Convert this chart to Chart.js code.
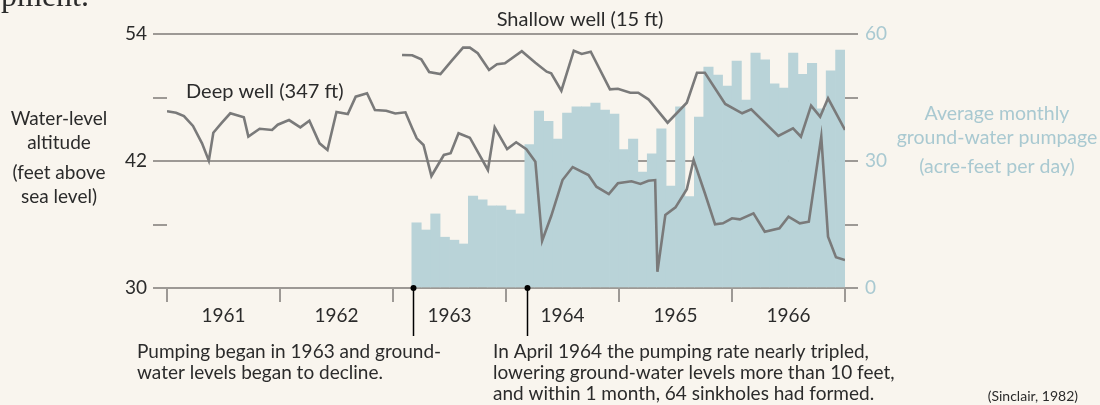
<!DOCTYPE html>
<html>
<head>
<meta charset="utf-8">
<script src="https://cdn.jsdelivr.net/npm/chart.js@4.4.1/dist/chart.umd.min.js"></script>
<style>
  html, body { margin: 0; padding: 0; background: #f9f5ee; }
  #wrap { position: relative; width: 1100px; height: 405px; }
</style>
</head>
<body>
<div id="wrap"><canvas id="chart"></canvas></div>
<script>
// deep well (347 ft) - decimal years / feet above sea level
const deepYears = [1961.00, 1961.08, 1961.15, 1961.23, 1961.31, 1961.37, 1961.41, 1961.48, 1961.56, 1961.68,
  1961.72, 1961.82, 1961.93, 1961.98, 1962.08, 1962.18, 1962.26, 1962.35, 1962.42, 1962.50,
  1962.60, 1962.67, 1962.77, 1962.84, 1962.94, 1963.02, 1963.11, 1963.17, 1963.21, 1963.27,
  1963.34, 1963.45, 1963.51, 1963.58, 1963.68, 1963.84, 1963.90, 1964.01, 1964.09, 1964.18,
  1964.26, 1964.32, 1964.40, 1964.50, 1964.59, 1964.73, 1964.80, 1964.91, 1964.99, 1965.11,
  1965.19, 1965.26, 1965.32, 1965.34, 1965.41, 1965.50, 1965.60, 1965.66, 1965.76, 1965.85,
  1965.92, 1966.00, 1966.07, 1966.19, 1966.29, 1966.42, 1966.50, 1966.60, 1966.68, 1966.79,
  1966.85, 1966.92, 1967.00];
const deepLevels = [46.7, 46.56, 46.25, 45.31, 43.67, 42.03, 44.67, 45.56, 46.51, 46.13,
  44.3, 45.05, 44.93, 45.43, 45.87, 45.18, 45.81, 43.67, 43.04, 46.63,
  46.44, 48.08, 48.4, 46.82, 46.75, 46.49, 46.6, 45.09, 44.14, 43.51,
  40.58, 42.57, 42.73, 44.62, 44.2, 41.15, 45.18, 43.13, 43.77, 43.11,
  41.93, 34.47, 36.8, 40.2, 41.43, 40.68, 39.57, 38.88, 39.89, 40.08,
  39.83, 40.14, 40.2, 31.54, 36.9, 37.62, 39.33, 42.09, 38.95, 36.02,
  36.11, 36.59, 36.49, 37.06, 35.32, 35.64, 36.74, 36.11, 36.26, 44.3,
  34.85, 32.9, 32.64];

// shallow well (15 ft)
const shallowYears = [1963.08, 1963.17, 1963.25, 1963.32, 1963.42, 1963.52, 1963.62, 1963.68, 1963.75, 1963.85,
  1963.92, 1963.99, 1964.14, 1964.26, 1964.36, 1964.40, 1964.49, 1964.60, 1964.67, 1964.75,
  1964.92, 1964.99, 1965.10, 1965.17, 1965.26, 1965.43, 1965.60, 1965.69, 1965.76, 1965.94,
  1966.09, 1966.17, 1966.41, 1966.54, 1966.61, 1966.70, 1966.78, 1966.85, 1967.00];
const shallowLevels = [52.02, 51.99, 51.61, 50.41, 50.22, 51.48, 52.71, 52.71, 52.18, 50.6,
  51.14, 51.23, 52.37, 51.29, 50.44, 50.29, 48.64, 52.42, 52.11, 52.33,
  48.77, 48.83, 48.45, 48.45, 47.83, 45.62, 47.51, 50.34, 50.34, 47.39,
  46.51, 46.88, 44.36, 45.09, 44.3, 47.23, 46.19, 47.92, 44.93];

// average monthly pumpage, acre-feet per day
const pumpMonths = ['1963-03', '1963-04', '1963-05', '1963-06', '1963-07', '1963-08', '1963-09', '1963-10', '1963-11', '1963-12',
  '1964-01', '1964-02', '1964-03', '1964-04', '1964-05', '1964-06', '1964-07', '1964-08', '1964-09', '1964-10', '1964-11', '1964-12',
  '1965-01', '1965-02', '1965-03', '1965-04', '1965-05', '1965-06', '1965-07', '1965-08', '1965-09', '1965-10', '1965-11', '1965-12',
  '1966-01', '1966-02', '1966-03', '1966-04', '1966-05', '1966-06', '1966-07', '1966-08', '1966-09', '1966-10', '1966-11', '1966-12'];
const pumpRates = [15.4, 13.7, 17.5, 12.0, 11.3, 10.4, 21.7, 20.8, 19.4, 19.4,
  18.4, 17.5, 33.9, 41.8, 39.4, 35.2, 41.3, 42.8, 42.8, 43.7, 42.0, 41.1,
  32.7, 35.2, 27.4, 31.7, 37.6, 24.1, 42.8, 21.6, 40.4, 52.2, 50.3, 47.7,
  53.6, 44.4, 55.5, 53.9, 48.2, 47.2, 55.5, 50.5, 53.1, 42.3, 51.3, 56.2];

const yearLabels = [1961, 1962, 1963, 1964, 1965, 1966];
const levelTicks = [54, 42, 30];
const pumpTicks = [60, 30, 0];
const events = [1963.18, 1964.19]; // pumping began, rate tripled

const ink = '#2b2b2b';
const lineGrey = '#7a7a7a';
const gridGrey = '#9d9995';
const blue = '#a9c9d1';
const barBlue = '#b9d3d8';
const font = 'Lato, "Open Sans", sans-serif';

function monthToYear(m) {
  const [y, mo] = m.split('-').map(Number);
  return y + (mo - 0.5) / 12;
}

const notes = {
  id: 'notes',
  afterDatasetsDraw(chart) {
    const ctx = chart.ctx;
    const x = chart.scales.x, y = chart.scales.y;
    ctx.save();
    // event markers
    ctx.strokeStyle = '#000';
    ctx.fillStyle = '#000';
    ctx.lineWidth = 1.5;
    events.forEach(v => {
      const px = Math.round(x.getPixelForValue(v)) + 0.5;
      const py = y.getPixelForValue(30);
      ctx.beginPath(); ctx.moveTo(px, py); ctx.lineTo(px, 336); ctx.stroke();
      ctx.beginPath(); ctx.arc(px, py, 3, 0, Math.PI * 2); ctx.fill();
    });

    ctx.textBaseline = 'middle';
    ctx.fillStyle = ink;
    ctx.textAlign = 'center';
    ctx.font = '20px ' + font;
    ctx.fillText('Shallow well (15 ft)', 580, 20);
    ctx.textAlign = 'left';
    ctx.fillText('Deep well (347 ft)', 186, 92);

    ctx.font = '19px ' + font;
    ctx.textAlign = 'center';
    ['Water-level', 'altitude'].forEach((t, i) => ctx.fillText(t, 59, 119 + i * 24));
    ['(feet above', 'sea level)'].forEach((t, i) => ctx.fillText(t, 59, 173 + i * 24));

    ctx.fillStyle = blue;
    ctx.font = '19.5px ' + font;
    ['Average monthly', 'ground-water pumpage'].forEach((t, i) => ctx.fillText(t, 997, 114 + i * 24));
    ctx.fillText('(acre-feet per day)', 997, 167);

    ctx.fillStyle = ink;
    ctx.font = '19px ' + font;
    ctx.textAlign = 'left';
    ['Pumping began in 1963 and ground-', 'water levels began to decline.']
      .forEach((t, i) => ctx.fillText(t, 137, 352 + i * 21));
    ['In April 1964 the pumping rate nearly tripled,', 'lowering ground-water levels more than 10 feet,',
     'and within 1 month, 64 sinkholes had formed.']
      .forEach((t, i) => ctx.fillText(t, 493, 352 + i * 21));

    ctx.font = '14px ' + font;
    ctx.textAlign = 'right';
    ctx.fillText('(Sinclair, 1982)', 1078, 396);

    ctx.font = '32px "Liberation Serif", serif';
    ctx.textBaseline = 'alphabetic';
    ctx.fillText('development.', 89, 6);
    ctx.restore();
  }
};

new Chart(document.getElementById('chart'), {
  data: {
    datasets: [
      {
        type: 'line',
        label: 'Shallow well (15 ft)',
        data: shallowYears.map((v, i) => ({ x: v, y: shallowLevels[i] })),
        yAxisID: 'y',
        borderColor: lineGrey,
        borderWidth: 2.6,
        pointRadius: 0,
        tension: 0,
        order: 0
      },
      {
        type: 'line',
        label: 'Deep well (347 ft)',
        data: deepYears.map((v, i) => ({ x: v, y: deepLevels[i] })),
        yAxisID: 'y',
        borderColor: lineGrey,
        borderWidth: 2.6,
        pointRadius: 0,
        tension: 0,
        order: 0
      },
      {
        type: 'bar',
        label: 'Pumpage',
        data: pumpMonths.map((m, i) => ({ x: monthToYear(m), y: pumpRates[i] })),
        yAxisID: 'y2',
        backgroundColor: barBlue,
        borderWidth: 0,
        categoryPercentage: 1,
        barPercentage: 1,
        order: 1
      }
    ]
  },
  options: {
    responsive: true,
    maintainAspectRatio: false,
    animation: false,
    layout: { padding: { top: 34, left: 0, right: 0, bottom: 0 } },
    plugins: { legend: { display: false }, tooltip: { enabled: false } },
    scales: {
      x: {
        type: 'linear',
        offset: false,
        min: 1961,
        max: 1967,
        afterBuildTicks: s => {
          const t = [{ value: 1961 }];
          yearLabels.forEach(yr => { t.push({ value: yr + 0.5 }); t.push({ value: yr + 1 }); });
          s.ticks = t;
        },
        afterFit: s => { s.height = 117; },
        border: { display: false },
        grid: {
          offset: false,
          drawOnChartArea: false,
          tickLength: 14,
          lineWidth: 2,
          tickColor: c => (c.tick && c.tick.value % 1 === 0) ? gridGrey : 'rgba(0,0,0,0)'
        },
        ticks: {
          autoSkip: false,
          maxRotation: 0,
          padding: 2,
          color: ink,
          font: { family: font, size: 19 },
          callback: v => (v % 1 !== 0) ? String(Math.floor(v)) : ''
        }
      },
      y: {
        position: 'left',
        min: 30,
        max: 54,
        afterBuildTicks: s => { s.ticks = [30, 36, 42, 48, 54].map(v => ({ value: v })); },
        afterFit: s => { s.width = 167; },
        border: { display: false },
        grid: {
          tickLength: 14,
          lineWidth: 2,
          color: c => (c.tick && levelTicks.includes(c.tick.value)) ? gridGrey : 'rgba(0,0,0,0)',
          tickColor: gridGrey
        },
        ticks: {
          padding: 6,
          color: ink,
          font: { family: font, size: 19 },
          callback: v => levelTicks.includes(v) ? String(v) : ''
        }
      },
      y2: {
        position: 'right',
        min: 0,
        max: 60,
        afterBuildTicks: s => { s.ticks = [0, 15, 30, 45, 60].map(v => ({ value: v })); },
        afterFit: s => { s.width = 255; },
        border: { display: false },
        grid: {
          drawOnChartArea: false,
          tickLength: 13,
          lineWidth: 2,
          tickColor: gridGrey
        },
        ticks: {
          padding: 7,
          color: blue,
          font: { family: font, size: 19 },
          callback: v => pumpTicks.includes(v) ? String(v) : ''
        }
      }
    }
  },
  plugins: [notes]
});
</script>
</body>
</html>
